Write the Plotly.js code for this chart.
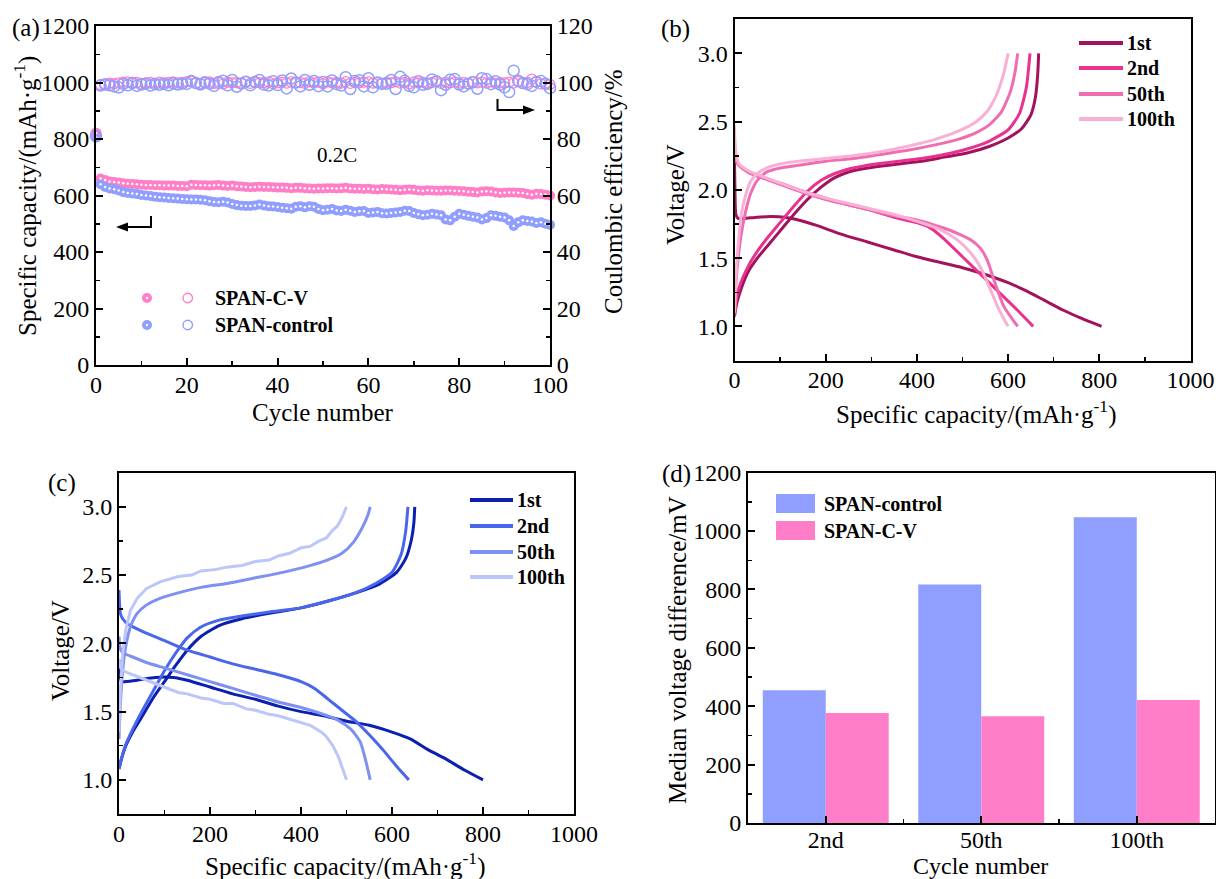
<!DOCTYPE html>
<html><head><meta charset="utf-8">
<script src="https://cdn.plot.ly/plotly-3.0.1.min.js"></script>
<style>html,body{margin:0;padding:0;background:#fff}#chart{width:1216px;height:879px}</style>
</head><body><div id="chart"></div>
<script>
// ---------- Panel (a): cycling ----------
const cycles = [0,1,2,3,4,5,6,7,8,9,10,11,12,13,14,15,16,17,18,19,20,21,22,23,24,25,26,27,28,29,30,31,32,33,34,35,36,37,38,39,40,41,42,43,44,45,46,47,48,49,50,51,52,53,54,55,56,57,58,59,60,61,62,63,64,65,66,67,68,69,70,71,72,73,74,75,76,77,78,79,80,81,82,83,84,85,86,87,88,89,90,91,92,93,94,95,96,97,98,99,100];
const capCV = [820,
660,655,650,648,646,643,642,641,640,638,
637,637,636,636,635,635,635,634,634,633,
638,637,636,636,635,636,637,635,634,635,
633,632,630,629,630,631,630,630,629,628,
628,627,626,627,627,626,625,624,625,625,
626,626,625,626,627,625,624,624,623,624,
622,621,623,622,621,620,619,620,621,620,
618,617,619,618,617,617,618,618,617,616,
615,613,612,611,614,615,614,611,609,610,
611,611,610,609,605,603,606,605,603,600];
const capCtrl = [805,
640,630,625,622,618,612,609,607,605,602,
600,598,596,594,593,591,590,589,588,587,
586,586,585,583,580,577,576,578,575,570,
566,564,563,563,565,568,565,562,561,559,
557,555,553,560,562,558,562,560,552,548,
550,552,547,545,550,546,542,544,545,538,
540,542,537,536,538,540,542,546,545,538,
534,530,532,535,533,530,515,512,525,535,
532,528,525,522,515,520,530,528,525,522,
512,492,505,512,510,508,503,505,500,496];
const ceCV = [82,
99.2,99.5,99.8,99.6,99.9,100.1,100.2,99.8,100.0,99.7,
99.9,100.0,99.8,100.1,99.9,100.0,100.2,99.9,100.0,100.3,
100.5,99.8,99.6,100.0,100.2,99.7,100.4,99.5,100.1,99.9,
100.0,99.8,100.3,99.7,100.1,99.9,100.0,100.2,99.6,99.9,
100.1,99.8,100.2,99.9,100.0,99.7,100.3,99.8,100.1,99.6,
100.2,99.9,100.0,99.8,100.3,99.7,100.0,99.9,100.1,100.2,
99.8,100.0,99.7,100.1,99.9,100.3,99.8,100.0,99.6,100.2,
99.9,100.1,99.8,100.0,100.4,99.7,100.1,99.9,100.2,99.8,
100.0,99.6,100.3,99.9,100.1,99.8,100.2,99.7,100.0,99.9,
100.1,99.8,100.3,99.7,100.0,101.2,100.2,99.5,99.8,99.3];
const ceCtrl = [81,
98.9,99.3,99.0,98.6,98.2,99.5,99.0,99.8,98.8,99.3,
99.6,98.9,99.4,99.2,99.5,99.0,99.7,99.3,99.6,99.5,
100.5,99.8,99.3,100.1,99.6,98.8,99.9,100.6,99.0,100.9,
98.5,99.6,100.3,99.0,100.2,100.9,99.3,98.9,100.4,99.1,
100.7,97.9,101.4,100.0,98.6,100.9,99.2,100.5,98.7,100.2,
98.6,100.7,99.4,98.9,101.9,97.7,100.5,100.8,98.6,101.5,
98.3,100.0,99.5,99.6,100.9,97.7,102.0,100.6,98.8,98.3,
100.4,99.2,99.5,101.1,100.4,97.3,99.2,101.0,101.2,99.3,
98.6,99.6,100.1,97.8,101.5,101.2,99.4,100.4,99.3,98.3,
96.6,104.2,100.6,99.8,99.4,98.8,100.2,100.5,99.5,98.0];
const seriesA = ["SPAN-C-V", "SPAN-control"];

// ---------- Panel (b): SPAN-C-V voltage profiles ----------
const cycleLabels = ["1st", "2nd", "50th", "100th"];
const b1_dis_cap = [0,1,3,8,20,50,80,110,140,180,230,290,350,400,450,500,550,600,640,680,720,760,805];
const b1_dis_v   = [2.20,2.00,1.82,1.79,1.79,1.80,1.805,1.80,1.78,1.74,1.68,1.62,1.56,1.51,1.47,1.43,1.38,1.32,1.26,1.19,1.12,1.06,1.00];
const b1_chg_cap = [0,5,15,30,50,75,100,130,160,190,220,260,310,360,410,460,510,560,600,630,650,660,665,667];
const b1_chg_v   = [1.08,1.17,1.28,1.40,1.50,1.60,1.70,1.82,1.93,2.02,2.09,2.14,2.17,2.19,2.21,2.24,2.27,2.32,2.38,2.45,2.55,2.68,2.85,3.00];
const b2_dis_cap = [0,1,3,10,30,60,100,150,200,250,300,350,400,430,460,500,540,580,620,655];
const b2_dis_v   = [2.32,2.26,2.22,2.18,2.13,2.09,2.05,1.99,1.94,1.89,1.85,1.80,1.76,1.72,1.64,1.51,1.38,1.25,1.12,1.00];
const b2_chg_cap = [0,5,15,30,50,75,100,130,160,190,220,260,310,360,410,460,510,560,600,625,640,648];
const b2_chg_v   = [1.07,1.22,1.33,1.44,1.55,1.66,1.76,1.88,1.99,2.07,2.12,2.16,2.19,2.21,2.23,2.26,2.30,2.36,2.44,2.56,2.75,3.00];
const b50_dis_cap = [0,1,3,10,30,60,100,150,200,250,300,350,400,450,490,520,540,555,570,590,610,621];
const b50_dis_v   = [2.38,2.28,2.22,2.18,2.13,2.09,2.04,1.98,1.93,1.89,1.85,1.81,1.78,1.73,1.68,1.63,1.57,1.48,1.33,1.15,1.05,1.00];
const b50_chg_cap = [0,3,8,15,25,35,50,70,100,140,200,260,320,380,440,490,530,560,585,605,615,621];
const b50_chg_v   = [1.10,1.30,1.50,1.68,1.85,1.97,2.07,2.13,2.16,2.18,2.21,2.23,2.26,2.29,2.33,2.37,2.42,2.48,2.57,2.72,2.86,3.00];
const b100_dis_cap = [0,1,3,10,30,60,100,150,200,250,300,350,400,450,490,520,540,560,575,590,600];
const b100_dis_v   = [2.47,2.35,2.27,2.19,2.14,2.10,2.05,1.99,1.94,1.90,1.86,1.82,1.77,1.71,1.63,1.53,1.43,1.28,1.16,1.06,1.00];
const b100_chg_cap = [0,3,8,15,25,35,50,70,100,140,200,260,320,380,440,490,530,555,575,590,600];
const b100_chg_v   = [1.10,1.35,1.60,1.82,1.97,2.06,2.12,2.16,2.19,2.21,2.23,2.25,2.28,2.32,2.37,2.43,2.50,2.58,2.70,2.85,3.00];

// ---------- Panel (c): SPAN-control voltage profiles ----------
const c1_dis_cap = [0,2,5,15,40,80,120,150,200,250,300,350,400,450,500,550,600,640,680,720,760,800];
const c1_dis_v   = [1.88,1.78,1.72,1.72,1.73,1.75,1.75,1.73,1.68,1.63,1.59,1.54,1.50,1.47,1.43,1.40,1.35,1.30,1.22,1.15,1.07,1.00];
const c1_chg_cap = [0,5,15,30,50,75,100,125,150,180,220,270,330,400,460,520,570,610,630,642,648,650];
const c1_chg_v   = [1.08,1.15,1.25,1.35,1.46,1.60,1.72,1.84,1.95,2.05,2.13,2.18,2.22,2.26,2.31,2.37,2.43,2.52,2.62,2.75,2.88,3.00];
const c2_dis_cap = [0,1,3,8,20,50,100,150,200,250,300,350,400,430,460,490,520,550,580,610,637];
const c2_dis_v   = [2.39,2.30,2.22,2.18,2.14,2.09,2.02,1.95,1.90,1.85,1.81,1.77,1.72,1.67,1.59,1.51,1.43,1.33,1.22,1.10,1.00];
const c2_chg_cap = [0,5,15,30,50,75,100,125,150,180,220,270,330,400,460,520,565,600,620,630,635];
const c2_chg_v   = [1.08,1.15,1.26,1.37,1.50,1.65,1.80,1.93,2.04,2.12,2.17,2.20,2.23,2.26,2.31,2.37,2.44,2.52,2.65,2.82,3.00];
const c50_dis_cap = [0,2,6,15,30,60,100,150,200,250,300,350,400,440,480,510,530,540,548,552];
const c50_dis_v   = [2.05,1.97,1.94,1.92,1.90,1.86,1.82,1.77,1.72,1.67,1.62,1.57,1.53,1.49,1.44,1.37,1.28,1.17,1.06,1.00];
const c50_chg_cap = [0,3,8,15,25,40,60,90,130,180,240,300,360,410,450,490,515,535,548,552];
const c50_chg_v   = [1.30,1.55,1.80,1.98,2.12,2.22,2.28,2.33,2.37,2.41,2.44,2.48,2.52,2.56,2.60,2.66,2.74,2.85,2.95,3.00];
const c100_dis_cap = [0,2,6,15,30,60,100,130,150,180,200,230,250,280,300,330,350,380,400,420,430,445,455,470,482,492,500];
const c100_dis_v   = [1.88,1.83,1.81,1.79,1.77,1.73,1.68,1.64,1.63,1.60,1.59,1.56,1.56,1.52,1.51,1.48,1.47,1.44,1.42,1.40,1.38,1.35,1.32,1.25,1.17,1.08,1.00];
const c100_chg_cap = [0,3,8,15,25,40,60,90,130,160,180,210,240,270,300,330,350,375,400,420,440,455,470,480,490,500];
const c100_chg_v   = [1.35,1.65,1.92,2.10,2.24,2.33,2.40,2.45,2.49,2.50,2.53,2.54,2.56,2.57,2.60,2.61,2.64,2.66,2.70,2.71,2.75,2.77,2.83,2.86,2.92,3.00];

// ---------- Panel (d): median voltage difference ----------
const dCategories = ["2nd", "50th", "100th"];
const dControl = [455, 817, 1047];
const dCV = [377, 366, 421];
const dSeries = ["SPAN-control", "SPAN-C-V"];

// ---------- styling ----------
const W = 1216, H = 879;
const PX = x => x / W, PY = y => 1 - y / H;
const FONT = "Liberation Serif";
const PINK = "#FF7EC7", BLUE = "#8F9EFF";
const bCols = ["#A3125C", "#E8328E", "#F06DB2", "#F8B0D5"];
const cCols = ["#0B1FB0", "#4A66EA", "#7E90F2", "#BCC6F8"];

function axBase(extra) {
  return Object.assign({
    showline: true, linewidth: 2, linecolor: "black", mirror: true,
    ticks: "inside", ticklen: 7, tickwidth: 2, tickcolor: "black",
    showgrid: false, zeroline: false, tickfont: {family: FONT, size: 24, color: "black"},
    fixedrange: true
  }, extra);
}
function joinSeg(a, b) { return a.concat([null], b); }

const traces = [];
// (a)
traces.push({x: cycles, y: capCV, type: "scatter", mode: "markers", xaxis: "x", yaxis: "y", cliponaxis: false,
  marker: {color: PINK, size: 10}, name: seriesA[0]});
traces.push({x: cycles, y: capCtrl, type: "scatter", mode: "markers", xaxis: "x", yaxis: "y", cliponaxis: false,
  marker: {color: BLUE, size: 10}, name: seriesA[1]});
traces.push({x: cycles, y: capCV, type: "scatter", mode: "markers", xaxis: "x", yaxis: "y", cliponaxis: false,
  marker: {color: "white", size: 2.5}, hoverinfo: "skip"});
traces.push({x: cycles, y: capCtrl, type: "scatter", mode: "markers", xaxis: "x", yaxis: "y", cliponaxis: false,
  marker: {color: "white", size: 2.5}, hoverinfo: "skip"});
traces.push({x: cycles, y: ceCV, type: "scatter", mode: "markers", xaxis: "x", yaxis: "y2", cliponaxis: false,
  marker: {symbol: "circle-open", color: PINK, size: 10, line: {width: 1.3}}, name: seriesA[0]});
traces.push({x: cycles, y: ceCtrl, type: "scatter", mode: "markers", xaxis: "x", yaxis: "y2", cliponaxis: false,
  marker: {symbol: "circle-open", color: BLUE, size: 11, line: {width: 1.5}}, name: seriesA[1]});

// (b)
const bData = [[b1_dis_cap, b1_dis_v, b1_chg_cap, b1_chg_v], [b2_dis_cap, b2_dis_v, b2_chg_cap, b2_chg_v],
  [b50_dis_cap, b50_dis_v, b50_chg_cap, b50_chg_v], [b100_dis_cap, b100_dis_v, b100_chg_cap, b100_chg_v]];
bData.forEach((d, i) => traces.push({x: joinSeg(d[0], d[2]), y: joinSeg(d[1], d[3]), type: "scatter", mode: "lines",
  xaxis: "x2", yaxis: "y3", name: cycleLabels[i], connectgaps: false,
  line: {color: bCols[i], width: 3, shape: "spline", smoothing: 0.6}}));
// (c)
const cData = [[c1_dis_cap, c1_dis_v, c1_chg_cap, c1_chg_v], [c2_dis_cap, c2_dis_v, c2_chg_cap, c2_chg_v],
  [c50_dis_cap, c50_dis_v, c50_chg_cap, c50_chg_v], [c100_dis_cap, c100_dis_v, c100_chg_cap, c100_chg_v]];
cData.forEach((d, i) => traces.push({x: joinSeg(d[0], d[2]), y: joinSeg(d[1], d[3]), type: "scatter", mode: "lines",
  xaxis: "x3", yaxis: "y4", name: cycleLabels[i], connectgaps: false,
  line: {color: cCols[i], width: 3, shape: i === 3 ? "linear" : "spline", smoothing: 0.6}}));
// (d)
const dIdx = dCategories.map((c, i) => i);
traces.push({x: dIdx, y: dControl, type: "bar", xaxis: "x4", yaxis: "y5", name: dSeries[0], marker: {color: BLUE}});
traces.push({x: dIdx, y: dCV, type: "bar", xaxis: "x4", yaxis: "y5", name: dSeries[1], marker: {color: PINK}});

// ---------- annotations & shapes ----------
const ann = [];
const shapes = [];
function txt(t, x, y, o) {
  ann.push(Object.assign({text: t, x: PX(x), y: PY(y), xref: "paper", yref: "paper", showarrow: false,
    xanchor: "center", yanchor: "middle", font: {family: FONT, size: 25, color: "black"}}, o || {}));
}
const SUP = "(mAh·g<sup>-1</sup>)";
// panel letters
txt("(a)", 26, 28); txt("(b)", 675, 29); txt("(c)", 62, 483); txt("(d)", 677, 474);
// axis titles
txt("Cycle number", 323, 412);
txt("Specific capacity/" + SUP, 25, 196, {textangle: -90});
txt("Coulombic efficiency/%", 613, 192, {textangle: -90});
txt("Voltage/V", 676, 195, {textangle: -90});
txt("Specific capacity/" + SUP, 976, 412);
txt("Voltage/V", 60, 651, {textangle: -90});
txt("Specific capacity/" + SUP, 345, 864);
txt("Median voltage difference/mV", 677, 650, {textangle: -90});
txt("Cycle number", 981, 866, {font: {family: FONT, size: 24, color: "black"}});
txt("0.2C", 337, 155, {font: {family: FONT, size: 21, color: "black"}});

// legend (a)
const legA = [[PINK, 298], [BLUE, 325]];
legA.forEach((l, i) => {
  const [col, y] = l;
  shapes.push({type: "circle", xref: "paper", yref: "paper", x0: PX(142), x1: PX(152), y0: PY(y + 5), y1: PY(y - 5), fillcolor: col, line: {width: 0}});
  shapes.push({type: "circle", xref: "paper", yref: "paper", x0: PX(145.8), x1: PX(148.2), y0: PY(y + 1.2), y1: PY(y - 1.2), fillcolor: "white", line: {width: 0}});
  shapes.push({type: "circle", xref: "paper", yref: "paper", x0: PX(183), x1: PX(192.5), y0: PY(y + 4.75), y1: PY(y - 4.75), fillcolor: "rgba(0,0,0,0)", line: {color: col, width: 1.4}});
  txt("<b>" + seriesA[i] + "</b>", 213, y, {xanchor: "left", font: {family: FONT, size: 20, color: "black"}});
});
// arrows (a): line pieces plus triangular heads
function pth(pts) { return "M" + pts.map(p => PX(p[0]) + "," + PY(p[1])).join(" L") + " Z"; }
shapes.push({type: "line", xref: "paper", yref: "paper", x0: PX(151), x1: PX(151), y0: PY(216), y1: PY(228), line: {color: "black", width: 2}});
shapes.push({type: "line", xref: "paper", yref: "paper", x0: PX(151), x1: PX(126), y0: PY(227), y1: PY(227), line: {color: "black", width: 2}});
shapes.push({type: "path", xref: "paper", yref: "paper", path: pth([[116, 227], [128, 222.5], [128, 231.5]]), fillcolor: "black", line: {width: 0}});
shapes.push({type: "line", xref: "paper", yref: "paper", x0: PX(497.5), x1: PX(497.5), y0: PY(99), y1: PY(111), line: {color: "black", width: 2}});
shapes.push({type: "line", xref: "paper", yref: "paper", x0: PX(497.5), x1: PX(525), y0: PY(110), y1: PY(110), line: {color: "black", width: 2}});
shapes.push({type: "path", xref: "paper", yref: "paper", path: pth([[535, 110], [523, 105.5], [523, 114.5]]), fillcolor: "black", line: {width: 0}});

// legends (b), (c)
function lineLegend(cols, x0, x1, tx, ys) {
  ys.forEach((y, i) => {
    shapes.push({type: "line", xref: "paper", yref: "paper", x0: PX(x0), x1: PX(x1), y0: PY(y), y1: PY(y), line: {color: cols[i], width: 4}});
    txt("<b>" + cycleLabels[i] + "</b>", tx, y, {xanchor: "left", font: {family: FONT, size: 20, color: "black"}});
  });
}
lineLegend(bCols, 1079, 1123, 1125, [43, 68, 94, 119]);
lineLegend(cCols, 470, 513, 515, [500, 526, 552, 577]);
// legend (d)
[[BLUE, 494, 513], [PINK, 521, 540]].forEach((s, i) => {
  shapes.push({type: "rect", xref: "paper", yref: "paper", x0: PX(776), x1: PX(815), y0: PY(s[2]), y1: PY(s[1]), fillcolor: s[0], line: {width: 0}});
  txt("<b>" + dSeries[i] + "</b>", 822, (s[1] + s[2]) / 2, {xanchor: "left", font: {family: FONT, size: 20, color: "black"}});
});

const minorT = (dt, t0) => ({ticks: "inside", ticklen: 4, tickwidth: 1.5, dtick: dt, tick0: t0, tickcolor: "black"});
const XS = -3; // pull x tick labels a little closer to the axis
const layout = {
  width: W, height: H, margin: {l: 0, r: 0, t: 0, b: 0, pad: 0},
  paper_bgcolor: "white", plot_bgcolor: "rgba(0,0,0,0)", showlegend: false,
  font: {family: FONT, size: 25, color: "black"},
  barmode: "group", bargap: 0.19, bargroupgap: 0,
  xaxis: axBase({domain: [PX(96), PX(550)], anchor: "y", range: [0, 100], dtick: 20, tick0: 0, ticklabelstandoff: XS, minor: minorT(10, 0)}),
  yaxis: axBase({domain: [PY(365), PY(26)], anchor: "x", range: [0, 1200], dtick: 200, tick0: 0, mirror: false, minor: minorT(100, 0)}),
  yaxis2: axBase({overlaying: "y", side: "right", anchor: "x", range: [0, 120], dtick: 20, tick0: 0, mirror: false, minor: minorT(10, 0)}),
  xaxis2: axBase({domain: [PX(734.5), PX(1190.5)], anchor: "y3", range: [0, 1000], dtick: 200, tick0: 0, ticklabelstandoff: XS, minor: minorT(100, 0)}),
  yaxis3: axBase({domain: [PY(360.5), PY(19.3)], anchor: "x2", range: [0.75, 3.25], tick0: 1, dtick: 0.5, tickformat: ".1f", minor: minorT(0.25, 0.75)}),
  xaxis3: axBase({domain: [PX(119), PX(574)], anchor: "y4", range: [0, 1000], dtick: 200, tick0: 0, ticklabelstandoff: XS, minor: minorT(100, 0)}),
  yaxis4: axBase({domain: [PY(814), PY(472.7)], anchor: "x3", range: [0.75, 3.25], tick0: 1, dtick: 0.5, tickformat: ".1f", minor: minorT(0.25, 0.75)}),
  xaxis4: axBase({domain: [PX(748), PX(1214.5)], anchor: "y5", range: [-0.5, 2.5], tickmode: "array", tickvals: dIdx, ticktext: dCategories, ticklabelstandoff: -6, minor: minorT(1, 0.5)}),
  yaxis5: axBase({domain: [PY(823), PY(472.7)], anchor: "x4", range: [0, 1200], dtick: 200, tick0: 0, minor: minorT(100, 0)}),
  annotations: ann, shapes: shapes
};
Plotly.newPlot("chart", traces, layout, {displayModeBar: false, staticPlot: true});
</script></body></html>
